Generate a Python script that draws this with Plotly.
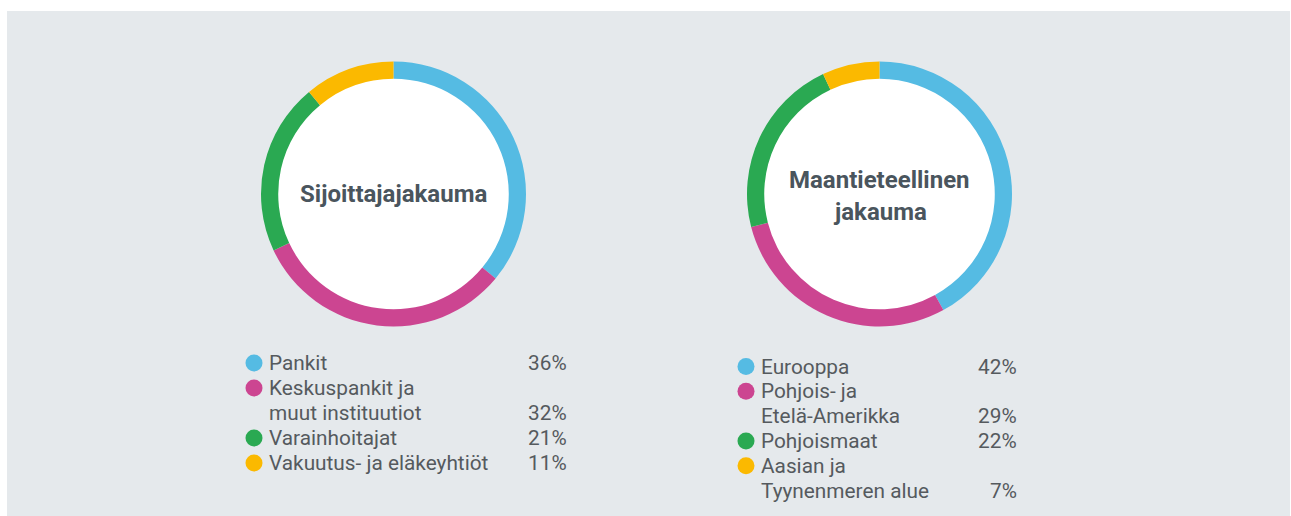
import plotly.graph_objects as go

# ---- data ----
titles = ["Sijoittajajakauma", "Maantieteellinen<br>jakauma"]
labels_investor = ["Pankit", "Keskuspankit ja<br>muut instituutiot", "Varainhoitajat", "Vakuutus- ja eläkeyhtiöt"]
values_investor = [36, 32, 21, 11]
labels_geo = ["Eurooppa", "Pohjois- ja<br>Etelä-Amerikka", "Pohjoismaat", "Aasian ja<br>Tyynenmeren alue"]
values_geo = [42, 29, 22, 7]
colors = ["#55bbe3", "#cc4591", "#2aa952", "#fbb900"]

W, H = 1291, 516
ML, MR, MT, MB = 7, 1, 11, 0
PW, PH = W - ML - MR, H - MT - MB


def px(x):
    return (x - ML) / PW


def py(y):
    return 1 - (y - MT) / PH


BG = "#e5e9ec"
TXT = "#555a5e"
TITLE = "#4a555d"
FONT = "Roboto"
LFS = 20.8
TFS = 24
TLINE = 32

charts = [
    dict(labels=labels_investor, values=values_investor, title=titles[0],
         cx=393.5, cy=194, lx_dot=254, lx_txt=267, lx_pct=569, ly0=363, dy=25),
    dict(labels=labels_geo, values=values_geo, title=titles[1],
         cx=879.5, cy=194, lx_dot=746, lx_txt=759, lx_pct=1019.5, ly0=366.5, dy=24.8),
]
R = 132.5
HOLE = 0.87

fig = go.Figure()
shapes = [dict(type="rect", xref="paper", yref="paper", x0=0, x1=1, y0=0, y1=1,
               fillcolor=BG, line=dict(width=0), layer="below")]
annotations = []

for ch in charts:
    cx, cy = ch["cx"], ch["cy"]
    fig.add_trace(go.Pie(
        labels=ch["labels"], values=ch["values"], hole=HOLE, sort=False,
        direction="clockwise", rotation=0, textinfo="none", showlegend=False,
        marker=dict(colors=colors, line=dict(width=0)),
        domain=dict(x=[px(cx - R), px(cx + R)], y=[py(cy + R), py(cy - R)]),
    ))
    shapes.append(dict(type="circle", xref="paper", yref="paper",
                       xsizemode="pixel", ysizemode="pixel",
                       xanchor=px(cx), yanchor=py(cy),
                       x0=-R * HOLE - 1, x1=R * HOLE + 1, y0=-R * HOLE - 1, y1=R * HOLE + 1,
                       fillcolor="white", line=dict(width=0), layer="below"))
    tlines = ch["title"].split("<br>")
    n = len(tlines)
    for i, tl in enumerate(tlines):
        yt = cy + (i - (n - 1) / 2) * TLINE + (2 if n > 1 else 0)
        annotations.append(dict(text=tl, x=px(cx), y=py(yt), xref="paper", yref="paper",
                                xanchor="center", yanchor="middle", showarrow=False,
                                font=dict(family=FONT, size=TFS, color=TITLE, weight="bold")))
    row = 0
    for lab, val, col in zip(ch["labels"], ch["values"], colors):
        lines = lab.split("<br>")
        ydot = ch["ly0"] + row * ch["dy"]
        shapes.append(dict(type="circle", xref="paper", yref="paper",
                           xsizemode="pixel", ysizemode="pixel",
                           xanchor=px(ch["lx_dot"]), yanchor=py(ydot),
                           x0=-8.5, x1=8.5, y0=-8.5, y1=8.5,
                           fillcolor=col, line=dict(width=0)))
        for ln in lines:
            yl = ch["ly0"] + row * ch["dy"]
            annotations.append(dict(text=ln, x=px(ch["lx_txt"]), y=py(yl), xref="paper", yref="paper",
                                    xanchor="left", yanchor="middle", showarrow=False,
                                    font=dict(family=FONT, size=LFS, color=TXT)))
            row += 1
        annotations.append(dict(text=f"{val}%", x=px(ch["lx_pct"]), y=py(ch["ly0"] + (row - 1) * ch["dy"]),
                                xref="paper", yref="paper", xanchor="right", yanchor="middle",
                                showarrow=False, font=dict(family=FONT, size=LFS, color=TXT)))

fig.update_layout(
    width=W, height=H, margin=dict(l=ML, r=MR, t=MT, b=MB, pad=0),
    paper_bgcolor="white", plot_bgcolor=BG,
    shapes=shapes, annotations=annotations,
)

fig.write_html("out.html", config={"displayModeBar": False},
               post_script="document.body.style.margin='0px';document.body.style.overflow='hidden';")
